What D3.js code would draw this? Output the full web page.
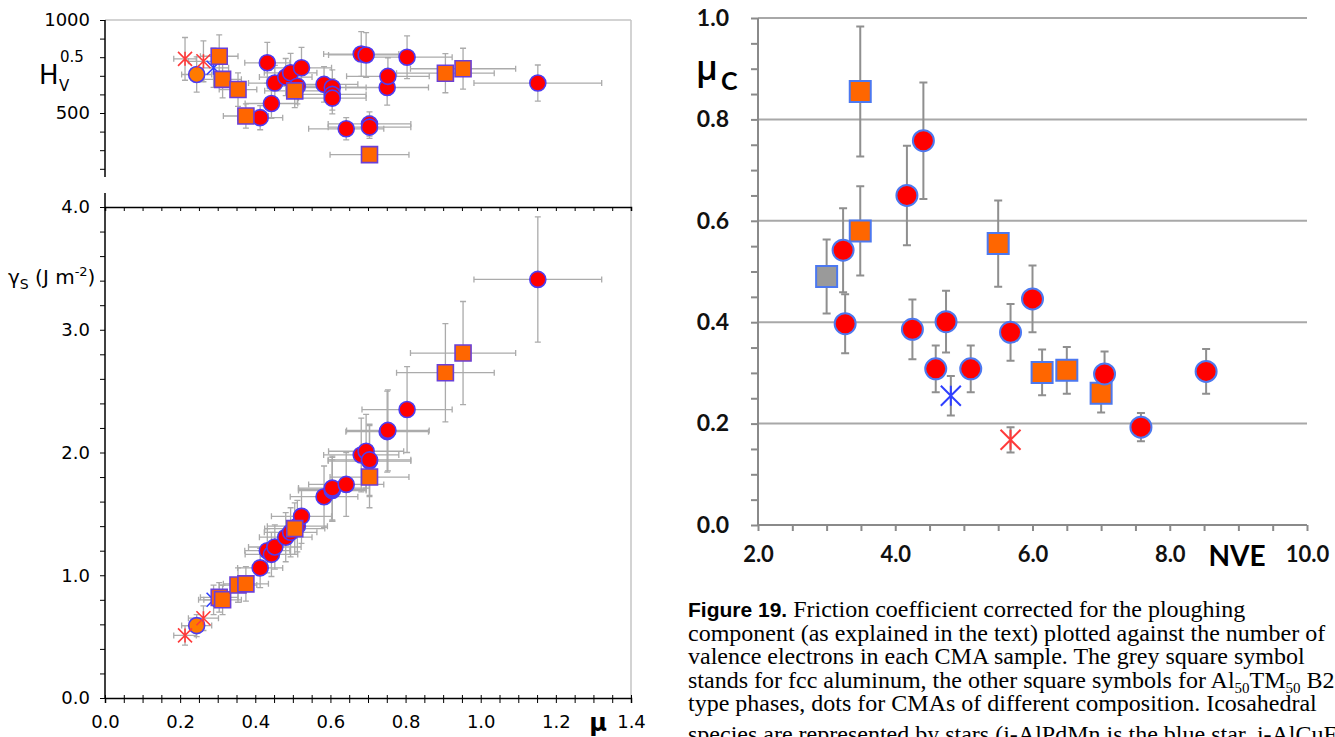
<!DOCTYPE html>
<html>
<head>
<meta charset="utf-8">
<script src="https://cdn.jsdelivr.net/npm/d3@7"></script>
<style>
  body { margin: 0; background: #fff; }
  svg { display: block; }
</style>
</head>
<body>
<svg id="chart" width="1335" height="737"></svg>
<script>
// ---- left panels: one entry per sample, mu is shared by both panels ----
var sampleKind = ['starRed', 'starRed', 'circleOrange', 'starBlue', 'square', 'square', 'square', 'square',
    'circle', 'circle', 'circle', 'circle', 'circle', 'circle', 'circle', 'square', 'circle', 'circle',
    'circle', 'circle', 'circle', 'circle', 'circle', 'circle', 'circle', 'circle', 'square', 'circle',
    'circle', 'circle', 'square', 'square', 'circle'];
var muValues = [0.213, 0.262, 0.244, 0.289, 0.304, 0.313, 0.354, 0.375, 0.413, 0.432, 0.443, 0.452, 0.481,
    0.494, 0.512, 0.505, 0.523, 0.583, 0.605, 0.605, 0.605, 0.642, 0.682, 0.695, 0.704, 0.704, 0.704, 0.751,
    0.753, 0.804, 0.906, 0.953, 1.152];
var muErr = [0.03, 0.04, 0.04, 0.04, 0.05, 0.05, 0.05, 0.06, 0.06, 0.06, 0.07, 0.07, 0.07, 0.07, 0.08, 0.08,
    0.08, 0.09, 0.09, 0.09, 0.09, 0.10, 0.10, 0.10, 0.11, 0.11, 0.105, 0.11, 0.11, 0.12, 0.13, 0.14, 0.17];
var hvValues = [791, 778, 707, 743, 805, 681, 626, 484, 475, 770, 551, 661, 693, 716, 644, 619, 743, 654, 637,
    600, 580, 415, 817, 812, 441, 424, 276, 637, 697, 800, 714, 738, 661];
var hvErr = [115, 110, 95, 105, 115, 100, 90, 65, 65, 110, 80, 95, 100, 105, 95, 90, 110, 95, 95, 85, 85, 60,
    120, 120, 65, 60, 40, 95, 100, 115, 105, 110, 97];
var gammaValues = [0.51, 0.65, 0.59, 0.80, 0.82, 0.80, 0.92, 0.93, 1.06, 1.20, 1.17, 1.23, 1.31, 1.35, 1.40,
    1.38, 1.48, 1.64, 1.69, 1.70, 1.71, 1.74, 1.98, 2.01, 1.93, 1.94, 1.80, 2.17, 2.18, 2.35, 2.65, 2.81, 3.41];
var gammaErr = [0.08, 0.10, 0.09, 0.12, 0.12, 0.12, 0.14, 0.14, 0.16, 0.18, 0.18, 0.18, 0.20, 0.20, 0.21,
    0.21, 0.22, 0.25, 0.25, 0.26, 0.26, 0.26, 0.30, 0.30, 0.29, 0.29, 0.25, 0.33, 0.33, 0.35, 0.40, 0.42, 0.51];

// ---- right panel ----
var nveKind = ['squareGrey', 'circle', 'square', 'square', 'circle', 'circle', 'circle', 'circle', 'circle',
    'circle', 'starBlue', 'circle', 'square', 'circle', 'starRed', 'circle', 'square', 'square', 'square',
    'circle', 'circle', 'circle'];
var nveValues = [3.00, 3.24, 3.49, 3.49, 3.27, 4.17, 4.41, 4.25, 4.74, 4.59, 4.81, 5.10, 5.50, 5.68, 5.68,
    6.00, 6.14, 6.50, 7.00, 7.05, 7.58, 8.53];
var mucValues = [0.49, 0.542, 0.855, 0.58, 0.397, 0.65, 0.758, 0.386, 0.401, 0.308, 0.255, 0.308, 0.555,
    0.38, 0.168, 0.446, 0.301, 0.305, 0.26, 0.298, 0.193, 0.303];
var mucErr = [0.073, 0.083, 0.128, 0.088, 0.058, 0.098, 0.115, 0.059, 0.061, 0.046, 0.039, 0.046, 0.085,
    0.056, 0.025, 0.066, 0.045, 0.046, 0.038, 0.044, 0.028, 0.044];

// ---- tick labels ----
var muTicks = [0, 0.2, 0.4, 0.6, 0.8, 1.0, 1.2, 1.4];
var hvTicks = [500, 1000];
var gammaTicks = [0, 1, 2, 3, 4];
var nveTicks = [2, 4, 6, 8, 10];
var mucTicks = [0, 0.2, 0.4, 0.6, 0.8, 1.0];

var captionLines = [
    'component (as explained in the text) plotted against the number of',
    'valence electrons in each CMA sample. The grey square symbol',
    null, // line with subscripts, built below
    'type phases, dots for CMAs of different composition. Icosahedral',
    'species are represented by stars (i-AlPdMn is the blue star, i-AlCuFe the red one'
];

var svg = d3.select('#chart');
svg.append('rect').attr('width', 1335).attr('height', 737).attr('fill', '#fff');

var markerStyle = {
    circle:       { fill: '#ff0000', stroke: '#4d3bf2' },
    circleOrange: { fill: '#ff7a00', stroke: '#4d3bf2' },
    square:       { fill: '#ff6600', stroke: '#6b3fd6' },
    squareGrey:   { fill: '#9a9a9a', stroke: '#4f7cf0' },
    starRed:      { fill: 'none', stroke: '#ff3a3a' },
    starBlue:     { fill: 'none', stroke: '#2f3fff' }
};
var layer = { circle: 0, circleOrange: 0, starRed: 1, starBlue: 1, square: 2, squareGrey: 2 };

function markerPath(kind, s) {
    if (kind.indexOf('circle') === 0) return d3.symbol(d3.symbolCircle, Math.PI * s * s)();
    if (kind.indexOf('square') === 0) return d3.symbol(d3.symbolSquare, 4 * s * s)();
    return 'M' + (-s) + ',' + (-s) + 'L' + s + ',' + s + 'M' + (-s) + ',' + s + 'L' + s + ',' + (-s) +
        'M0,' + (-s) + 'L0,' + s;
}

function drawMarkers(g, idx, kinds, px, py, size, strokeOverride) {
    g.selectAll(null).data(idx).enter().append('path')
        .attr('transform', function (i) { return 'translate(' + px(i) + ',' + py(i) + ')'; })
        .attr('d', function (i) {
            var k = kinds[i];
            var s = k.indexOf('star') === 0 ? size.star : (k.indexOf('square') === 0 ? size.square : size.circle);
            return markerPath(k, s);
        })
        .attr('fill', function (i) { return markerStyle[kinds[i]].fill; })
        .attr('stroke', function (i) {
            var k = kinds[i];
            if (strokeOverride && k.indexOf('star') !== 0) return strokeOverride;
            return markerStyle[k].stroke;
        })
        .attr('stroke-width', size.stroke);
}

function vBar(g, x, y0, y1, cap, color, w) {
    var p = 'M' + x + ',' + y0 + 'L' + x + ',' + y1 +
        'M' + (x - cap) + ',' + y0 + 'L' + (x + cap) + ',' + y0 +
        'M' + (x - cap) + ',' + y1 + 'L' + (x + cap) + ',' + y1;
    g.append('path').attr('d', p).attr('stroke', color).attr('stroke-width', w).attr('fill', 'none');
}
function hBar(g, y, x0, x1, cap, color, w) {
    var p = 'M' + x0 + ',' + y + 'L' + x1 + ',' + y +
        'M' + x0 + ',' + (y - cap) + 'L' + x0 + ',' + (y + cap) +
        'M' + x1 + ',' + (y - cap) + 'L' + x1 + ',' + (y + cap);
    g.append('path').attr('d', p).attr('stroke', color).attr('stroke-width', w).attr('fill', 'none');
}

// ================= LEFT =================
var xMu = d3.scaleLinear().domain([0, 1.4]).range([105, 631]);
var yHv = d3.scaleLinear().domain([0, 1000]).range([206, 20]);
var yGam = d3.scaleLinear().domain([0, 4]).range([698, 207]);
var leftFont = '"DejaVu Sans", sans-serif';

// frame (light grey top + right)
svg.append('line').attr('x1', xMu(0)).attr('x2', xMu(1.4)).attr('y1', yHv(1000)).attr('y2', yHv(1000))
    .attr('stroke', '#c4c4c4').attr('stroke-width', 1.5);
svg.append('line').attr('x1', xMu(1.4)).attr('x2', xMu(1.4)).attr('y1', yHv(1000)).attr('y2', yGam(0))
    .attr('stroke', '#c4c4c4').attr('stroke-width', 1.5);

// top panel y axis
var minorHv = d3.range(200, 1001, 100);
var hvAxis = svg.append('g').attr('transform', 'translate(' + xMu(0) + ',0)')
    .call(d3.axisLeft(yHv).tickValues(minorHv).tickSize(5).tickPadding(10)
        .tickFormat(function (d) { return hvTicks.indexOf(d) >= 0 ? d : ''; }));
hvAxis.select('.domain').remove();
hvAxis.append('line').attr('y1', yHv(1000)).attr('y2', 177).attr('stroke', '#000').attr('stroke-width', 1.5);
hvAxis.selectAll('text').attr('font-family', leftFont).attr('font-size', 18).attr('fill', '#000');

// bottom panel y axis
var minorGam = d3.range(0, 21).map(function (i) { return i * 0.2; });
var gAxis = svg.append('g').attr('transform', 'translate(' + xMu(0) + ',0)')
    .call(d3.axisLeft(yGam).tickValues(minorGam).tickSize(5).tickPadding(10)
        .tickFormat(function (d) {
            var r = Math.round(d);
            return (Math.abs(d - r) < 1e-6 && gammaTicks.indexOf(r) >= 0) ? d3.format('.1f')(r) : '';
        }));
gAxis.select('.domain').remove();
gAxis.append('line').attr('y1', 193).attr('y2', yGam(0)).attr('stroke', '#000').attr('stroke-width', 1.5);
gAxis.selectAll('text').attr('font-family', leftFont).attr('font-size', 18).attr('fill', '#000');

// separator line with ticks
var minorMu = d3.range(0, 29).map(function (i) { return i * 0.05; });
var sepAxis = svg.append('g').attr('transform', 'translate(0,' + yGam(4) + ')')
    .call(d3.axisBottom(xMu).tickValues(minorMu).tickSize(4).tickFormat(''));
sepAxis.select('.domain').attr('stroke-width', 1.5);

// bottom x axis
var xAxisG = svg.append('g').attr('transform', 'translate(0,' + yGam(0) + ')')
    .call(d3.axisBottom(xMu).tickValues(minorMu).tickSize(5).tickPadding(12)
        .tickFormat(function (d) {
            var hit = muTicks.some(function (t) { return Math.abs(t - d) < 1e-6; });
            return hit ? d3.format('.1f')(d) : '';
        }));
xAxisG.select('.domain').attr('stroke-width', 1.5);
xAxisG.selectAll('.tick line').attr('y1', -3);
xAxisG.selectAll('text').attr('font-family', leftFont).attr('font-size', 18).attr('fill', '#000');

svg.append('text').attr('x', 598).attr('y', 731).attr('text-anchor', 'middle')
    .attr('font-family', leftFont).attr('font-size', 24).attr('font-weight', 'bold').text('μ');

// axis titles
svg.append('text').attr('x', 39).attr('y', 84).attr('font-family', leftFont).attr('font-size', 26).text('H');
svg.append('text').attr('x', 59).attr('y', 91).attr('font-family', leftFont).attr('font-size', 15).text('V');
svg.append('text').attr('x', 60).attr('y', 62).attr('font-family', leftFont).attr('font-size', 15).text('0.5');

var gl = svg.append('text').attr('x', 8).attr('y', 284).attr('font-family', leftFont).attr('font-size', 20);
gl.append('tspan').text('γ');
gl.append('tspan').attr('font-size', 14).attr('dy', 5).text('S');
gl.append('tspan').attr('dy', -5).text(' (J m');
gl.append('tspan').attr('font-size', 13).attr('dy', -8).text('-2');
gl.append('tspan').attr('dy', 8).text(')');

// error bars (behind markers)
var leftIdx = d3.range(muValues.length);
var ebL = svg.append('g');
leftIdx.forEach(function (i) {
    var x = xMu(muValues[i]);
    vBar(ebL, x, yHv(hvValues[i] + hvErr[i]), yHv(hvValues[i] - hvErr[i]), 3, '#ababab', 1.3);
    hBar(ebL, yHv(hvValues[i]), xMu(muValues[i] - muErr[i]), xMu(muValues[i] + muErr[i]), 3, '#ababab', 1.3);
    vBar(ebL, x, yGam(gammaValues[i] + gammaErr[i]), yGam(gammaValues[i] - gammaErr[i]), 3, '#ababab', 1.3);
    hBar(ebL, yGam(gammaValues[i]), xMu(muValues[i] - muErr[i]), xMu(muValues[i] + muErr[i]), 3, '#ababab', 1.3);
});

var leftOrder = leftIdx.slice().sort(function (a, b) { return layer[sampleKind[a]] - layer[sampleKind[b]] || a - b; });
var leftSize = { circle: 8, square: 8, star: 7, stroke: 1.6 };
var mkL = svg.append('g');
drawMarkers(mkL, leftOrder, sampleKind, function (i) { return xMu(muValues[i]); },
    function (i) { return yHv(hvValues[i]); }, leftSize);
drawMarkers(mkL, leftOrder, sampleKind, function (i) { return xMu(muValues[i]); },
    function (i) { return yGam(gammaValues[i]); }, leftSize);

// ================= RIGHT =================
var xN = d3.scaleLinear().domain([2, 10]).range([758, 1307]);
var yC = d3.scaleLinear().domain([0, 1]).range([525, 18]);
var rightFont = 'Lato, "Open Sans", sans-serif';

// gridlines
svg.append('g').selectAll('line').data(mucTicks.filter(function (d) { return d > 0; })).enter().append('line')
    .attr('x1', xN(2)).attr('x2', xN(10))
    .attr('y1', function (d) { return yC(d); }).attr('y2', function (d) { return yC(d); })
    .attr('stroke', '#a8a8a8').attr('stroke-width', 2);

var minorC = d3.range(0, 21).map(function (i) { return i * 0.05; });
var yAxisR = svg.append('g').attr('transform', 'translate(' + xN(2) + ',0)')
    .call(d3.axisLeft(yC).tickValues(minorC).tickSize(7).tickPadding(22)
        .tickFormat(function (d) {
            var hit = mucTicks.some(function (t) { return Math.abs(t - d) < 1e-6; });
            return hit ? d3.format('.1f')(d) : '';
        }));
yAxisR.select('.domain').attr('stroke', '#8a8a8a').attr('stroke-width', 2).attr('d', 'M0,' + yC(1) + 'V' + yC(0));
yAxisR.selectAll('.tick line').attr('stroke', '#8a8a8a').attr('stroke-width', 2);
yAxisR.selectAll('text').attr('font-family', rightFont).attr('font-weight', 'bold')
    .attr('font-size', 23).attr('fill', '#111');

var minorN = d3.range(0, 17).map(function (i) { return 2 + i * 0.5; });
var xAxisR = svg.append('g').attr('transform', 'translate(0,' + yC(0) + ')')
    .call(d3.axisBottom(xN).tickValues(minorN).tickSize(6).tickPadding(15)
        .tickFormat(function (d) { return nveTicks.indexOf(d) >= 0 ? d3.format('.1f')(d) : ''; }));
xAxisR.select('.domain').attr('stroke', '#8a8a8a').attr('stroke-width', 2).attr('d', 'M' + xN(2) + ',0H' + xN(10));
xAxisR.selectAll('.tick line').attr('stroke', '#8a8a8a').attr('stroke-width', 2);
xAxisR.selectAll('text').attr('font-family', rightFont).attr('font-weight', 'bold')
    .attr('font-size', 22).attr('fill', '#111');

svg.append('text').attr('x', 1237).attr('y', 566).attr('text-anchor', 'middle')
    .attr('font-family', rightFont).attr('font-weight', 'bold').attr('font-size', 28).text('NVE');
svg.append('text').attr('x', 696).attr('y', 80).attr('font-family', '"Open Sans", sans-serif')
    .attr('font-weight', 600).attr('font-size', 34).text('μ');
svg.append('text').attr('x', 721).attr('y', 90).attr('font-family', rightFont)
    .attr('font-weight', 'bold').attr('font-size', 25).text('C');

var rightIdx = d3.range(nveValues.length);
var ebR = svg.append('g');
rightIdx.forEach(function (i) {
    vBar(ebR, xN(nveValues[i]), yC(mucValues[i] + mucErr[i]), yC(mucValues[i] - mucErr[i]), 4, '#8f8f8f', 2);
});
var rightOrder = rightIdx.slice().sort(function (a, b) {
    var la = nveKind[a].indexOf('square') === 0 ? 0 : (nveKind[a].indexOf('star') === 0 ? 1 : 2);
    var lb = nveKind[b].indexOf('square') === 0 ? 0 : (nveKind[b].indexOf('star') === 0 ? 1 : 2);
    return la - lb || a - b;
});
drawMarkers(svg.append('g'), rightOrder, nveKind, function (i) { return xN(nveValues[i]); },
    function (i) { return yC(mucValues[i]); }, { circle: 10.5, square: 10.5, star: 10, stroke: 2 }, '#4c78f0');

// ================= CAPTION =================
var capX = 688, capY0 = 617, capDy = 23.5;
var serif = '"Liberation Serif", "Times New Roman", serif';
var l1 = svg.append('text').attr('x', capX).attr('y', capY0).attr('font-family', serif).attr('font-size', 24);
l1.append('tspan').attr('font-family', '"Liberation Sans", Arial, sans-serif').attr('font-weight', 'bold')
    .attr('font-size', 21).text('Figure 19.');
l1.append('tspan').text(' Friction coefficient corrected for the ploughing');

captionLines.forEach(function (t, k) {
    var y = k === captionLines.length - 1 ? 742 : capY0 + capDy * (k + 1);
    var tx = svg.append('text').attr('x', capX).attr('y', y)
        .attr('font-family', serif).attr('font-size', 24);
    if (t !== null) { tx.text(t); return; }
    tx.append('tspan').text('stands for fcc aluminum, the other square symbols for Al');
    tx.append('tspan').attr('font-size', 15).attr('dy', 5).text('50');
    tx.append('tspan').attr('dy', -5).text('TM');
    tx.append('tspan').attr('font-size', 15).attr('dy', 5).text('50');
    tx.append('tspan').attr('dy', -5).text(' B2-');
});
</script>
</body>
</html>
